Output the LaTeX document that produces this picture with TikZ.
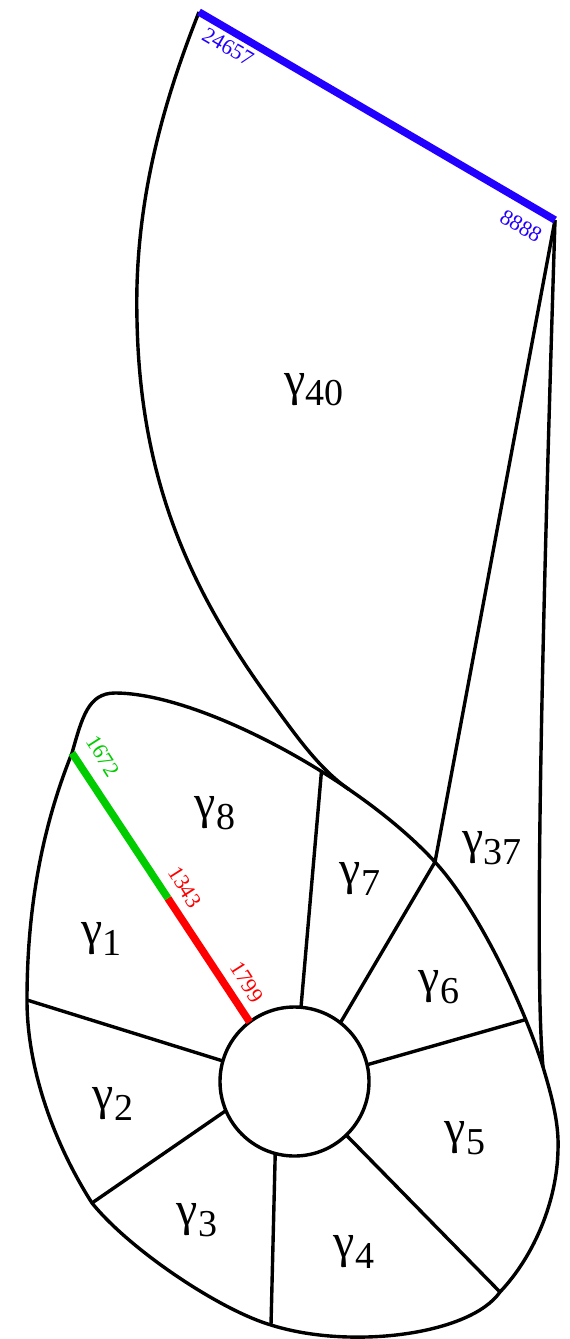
\documentclass[tikz,border=0pt]{standalone}
\usepackage{fontspec}
\setmainfont{Liberation Serif}
\usetikzlibrary{calc}
\definecolor{lblue}{RGB}{34,0,255}
\definecolor{lgreen}{RGB}{0,204,0}
\definecolor{lred}{RGB}{255,0,0}
\newcommand\glab[1]{γ\raisebox{-0.22em}{\fontsize{38}{38}\selectfont #1}}
\begin{document}
\begin{tikzpicture}[x=1pt,y=-1pt,line join=round,
  edge/.style={line width=3.4pt,black},
  band/.style={line width=7.5pt},
  region/.style={inner sep=0pt,font=\fontsize{48}{48}\selectfont},
  num/.style={inner sep=0pt,font=\fontsize{22}{22}\selectfont}]
\useasboundingbox (0,0) rectangle (570,1339);
% key points
\coordinate (t1) at (199,12);
\coordinate (t2) at (555,220);
\coordinate (j) at (435,862);
\coordinate (br) at (543,1067);
% outer boundary of the lower region
\draw[edge] (72,753) coordinate (b0)
  .. controls (82,718) and (88,693) .. (115,693)
  .. controls (200,693) and (360,780) .. (j) coordinate[pos=0.62] (b7) coordinate[pos=0.7] (mg)
  .. controls (475,905) and (522,1000) .. (br) coordinate[pos=0.78] (b5)
  .. controls (553,1100) and (559,1125) .. (558,1150)
  .. controls (557,1200) and (535,1255) .. (500,1292) coordinate (b4)
  .. controls (470,1335) and (350,1350) .. (271,1325) coordinate (b3)
  .. controls (220,1310) and (130,1250) .. (92,1203) coordinate (b2)
  .. controls (55,1145) and (27,1070) .. (27,1000) coordinate (b1)
  .. controls (27,900) and (45,820) .. (b0) -- cycle;
% upper region
\draw[edge] (t1) .. controls (160,110) and (134,210) .. (137,320)
  .. controls (140,480) and (190,590) .. (270,700)
  .. controls (295,734) and (318,768) .. (mg);
\draw[edge] (t2) -- (j);
\draw[edge] (t2) .. controls (540,700) and (535,980) .. (br);
% centre circle
\node[draw,circle,line width=3.4pt,minimum size=149pt,inner sep=0pt,outer sep=0pt] (c) at (294.5,1081.5) {};
% spokes
\draw[edge] (c.164.4) -- (b1);
\draw[edge] (c.203.1) -- (b2);
\draw[edge] (c.255.9) -- (b3);
\draw[edge] (c.314.5) -- (b4);
\draw[edge] (c.13.4) -- (b5);
\draw[edge] (c.52.6) -- (j);
\draw[edge] (c.85.8) -- (b7);
% coloured spoke
\coordinate (m) at ($(c.127.3)!0.46!(b0)$);
\draw[band,lred] (c.127.3) -- (m);
\draw[band,lgreen] (m) -- (b0);
% blue top edge
\draw[band,lblue] (t1) -- (t2);
% numbers
\node[num,text=lblue,rotate=-30.3] (n1) at (228,47) {24657};
\node[num,text=lblue,rotate=-30.3] (n2) at (521,226) {8888};
\node[num,text=lgreen,rotate=-57.4] (n3) at (103,756) {1672};
\node[num,text=lred,rotate=-57.4] (n4) at (185,887) {1343};
\node[num,text=lred,rotate=-57.4] (n5) at (247,982) {1799};
% region labels
\node[region] (g40) at (314,389.5) {\glab{40}};
\node[region] (g8) at (215,813) {\glab{8}};
\node[region] (g1) at (101.5,939) {\glab{1}};
\node[region] (g2) at (113,1104) {\glab{2}};
\node[region] (g7) at (360,879) {\glab{7}};
\node[region] (g37) at (492,848) {\glab{37}};
\node[region] (g6) at (439,987) {\glab{6}};
\node[region] (g5) at (465,1138) {\glab{5}};
\node[region] (g3) at (197,1220) {\glab{3}};
\node[region] (g4) at (354,1252) {\glab{4}};
\end{tikzpicture}
\end{document}
